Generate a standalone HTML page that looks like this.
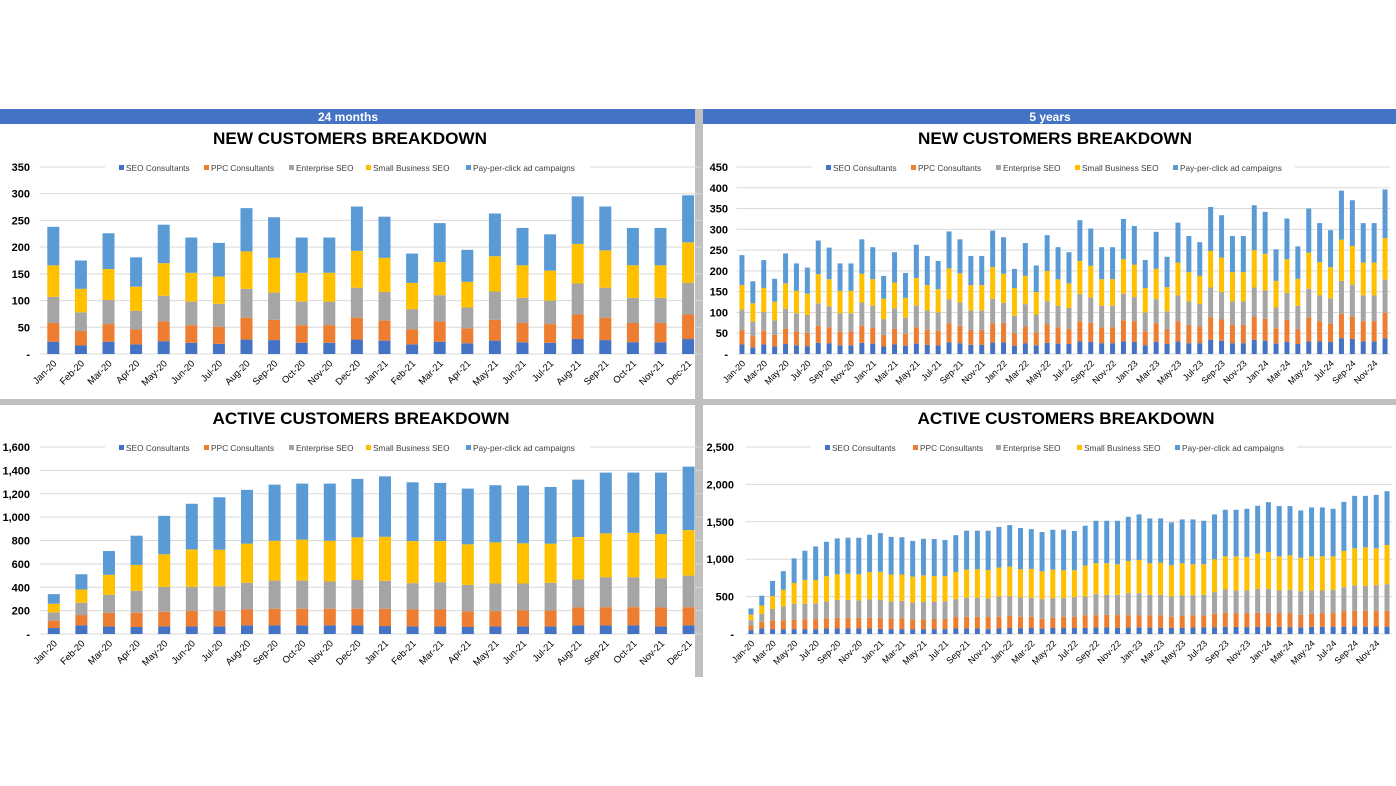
<!DOCTYPE html>
<html><head><meta charset="utf-8"><style>
html,body{margin:0;padding:0;background:#fff}
svg{display:block;font-family:"Liberation Sans",Arial,sans-serif}
</style></head><body>
<svg id="root" width="1396" height="786" viewBox="0 0 1396 786" xmlns="http://www.w3.org/2000/svg">
<rect x="0" y="0" width="1396" height="786" fill="#fff"/>
<rect x="0" y="109" width="695" height="15" fill="#4472C4"/>
<rect x="703" y="109" width="693" height="15" fill="#4472C4"/>
<text x="348" y="121" fill="#fff" font-size="12" font-weight="bold" text-anchor="middle">24 months</text>
<text x="1050" y="121" fill="#fff" font-size="12" font-weight="bold" text-anchor="middle">5 years</text>
<rect x="695" y="109" width="8" height="568" fill="#C0C0C0"/>
<rect x="0" y="399" width="1396" height="6" fill="#C0C0C0"/>
<g id="charts"></g>
</svg>
<script>
const seriesNames = ["SEO Consultants","PPC Consultants","Enterprise SEO","Small Business SEO","Pay-per-click ad campaigns"];
const seriesColors = ["#4472C4","#ED7D31","#A5A5A5","#FFC000","#5B9BD5"];
const monthNames = ["Jan","Feb","Mar","Apr","May","Jun","Jul","Aug","Sep","Oct","Nov","Dec"];
const years = ["20","21","22","23","24"];

const newSeo = [23,16,23,18,24,21,19,27,26,21,21,27,25,18,23,20,25,22,21,28,26,22,22,28,28,20,26,21,27,25,24,30,29,26,26,30,29,21,29,24,30,26,26,34,32,26,26,34,32,25,29,24,30,30,29,38,36,30,30,38];
const newPpc = [35,27,33,28,37,33,32,41,38,33,33,41,38,28,38,28,39,36,35,46,42,36,36,46,47,30,40,31,45,39,36,49,46,38,38,51,50,34,45,35,49,44,40,54,51,44,44,55,53,37,53,35,58,49,44,59,55,49,49,61];
const newEnt = [49,35,45,35,48,44,43,54,51,44,44,56,53,38,49,39,53,47,44,58,56,47,47,59,48,42,54,43,55,52,51,65,61,52,52,64,58,45,58,44,62,57,55,72,66,57,57,71,68,50,65,57,69,62,61,79,76,62,62,80];
const newSmb = [59,44,58,45,61,54,51,70,65,54,54,69,64,49,62,48,66,61,56,74,70,61,61,76,70,67,68,54,73,64,59,80,76,64,64,83,78,59,73,58,79,70,67,88,83,70,70,90,88,64,81,65,87,80,75,99,93,79,79,100];
const newAd  = [72,53,67,55,72,66,63,81,76,66,66,83,77,55,73,60,80,70,68,89,82,70,70,88,88,46,79,64,86,77,75,98,90,77,77,97,93,67,89,73,96,87,81,106,102,87,87,108,101,76,98,78,106,94,89,118,110,95,95,117];

const actSeo = [51,74,65,60,65,65,65,74,74,74,74,74,68,65,65,60,65,65,65,74,74,74,65,74,80,78,80,72,80,80,80,82,88,88,84,88,90,86,84,82,84,88,88,90,95,95,92,95,98,95,92,90,95,95,98,98,104,98,100,98];
const actPpc = [63,88,117,122,125,134,134,136,142,142,142,142,148,145,145,133,131,137,137,153,156,156,162,156,160,153,151,132,138,151,151,167,165,170,169,165,163,163,165,149,156,161,161,181,189,185,188,189,186,185,188,168,176,185,182,208,207,213,206,213];
const actEnt = [71,105,153,187,213,204,210,228,241,241,233,247,239,225,233,227,236,230,236,239,256,256,250,270,262,257,253,262,262,249,262,253,284,266,271,293,293,275,275,271,275,271,275,289,311,302,302,320,320,302,311,315,311,302,311,320,342,333,347,355];
const actSmb = [74,114,171,222,279,321,312,335,341,350,349,364,377,360,352,347,352,344,335,364,375,380,378,389,399,378,386,373,381,373,360,413,409,422,409,431,444,422,431,417,431,413,409,439,444,457,448,471,493,457,461,448,457,457,448,484,493,515,493,524];
const actAd  = [82,130,204,250,329,390,449,460,480,480,489,500,517,503,498,477,489,494,485,491,520,515,526,543,555,551,533,524,533,541,524,533,568,568,581,590,609,599,590,573,586,599,581,600,622,622,644,639,666,671,658,631,653,653,635,657,701,688,715,719];

const ticksNew24 = ["-","50","100","150","200","250","300","350"];
const ticksNew60 = ["-","50","100","150","200","250","300","350","400","450"];
const ticksAct24 = ["-","200","400","600","800","1,000","1,200","1,400","1,600"];
const ticksAct60 = ["-","500","1,000","1,500","2,000","2,500"];

const NS = "http://www.w3.org/2000/svg";
const root = document.getElementById("charts");
function mk(tag, attrs, parent){
  const e = document.createElementNS(NS, tag);
  for (const k in attrs) e.setAttribute(k, attrs[k]);
  (parent||root).appendChild(e);
  return e;
}
const labels = [];
years.forEach(y => monthNames.forEach(m => labels.push(m + "-" + y)));

function chart(cfg){
  const g = mk("g", {});
  
  
  const n = cfg.n;
  const step = cfg.tickStep, maxV = step * (cfg.ticks.length - 1);
  const yS = v => cfg.yBot - (v / maxV) * (cfg.yBot - cfg.yTop);
  const xC = i => cfg.left + (i + 0.5) * cfg.pitch;
  const right = cfg.left + n * cfg.pitch;
  const t = mk("text", {x: cfg.titleX, y: cfg.titleY, "font-size": 17, "font-weight": "bold", "text-anchor": "middle", fill: "#000", textLength: cfg.titleW, lengthAdjust: "spacingAndGlyphs"}, g);
  t.textContent = cfg.title;
  
  
  cfg.ticks.forEach((lab, k) => {
    const y = yS(k * step);
    const ln = mk("line", {x1: cfg.left, x2: right, y1: y, y2: y, stroke: "#D9D9D9", "stroke-width": 1}, g);
    
    
    const tx = mk("text", {x: cfg.labelRight, y: y + 4, "font-size": 11, "font-weight": "bold", "text-anchor": "end", fill: "#000"}, g);
    tx.textContent = lab;
    
    
  });
  mk("rect", {x: cfg.legX[0] - 14, y: cfg.yTop - 7, width: cfg.legX[4] + cfg.legLast - cfg.legX[0] + 28, height: 13, fill: "#fff"}, g);
  seriesNames.forEach((s, j) => {
    const le = mk("g", {}, g);
    
    
    mk("rect", {x: cfg.legX[j], y: cfg.yTop - 2, width: 5, height: 5, fill: seriesColors[j]}, le);
    const lt = mk("text", {x: cfg.legX[j] + 7, y: cfg.yTop + 4, "font-size": 8.3, fill: "#404040"}, le);
    lt.textContent = s;
  });
  for (let i = 0; i < n; i++){
    let acc = 0;
    cfg.data.forEach((arr, j) => {
      const v = arr[i];
      const r = mk("rect", {x: xC(i) - cfg.barW / 2, y: yS(acc + v), width: cfg.barW, height: Math.max(0, yS(acc) - yS(acc + v)), fill: seriesColors[j]}, g);
      
      
      acc += v;
    });
    if (i % cfg.labelEvery === 0){
      const cx = xC(i) + 4, cy = cfg.yBot + 10;
      const xl = mk("text", {x: cx, y: cy, "font-size": cfg.xFont, "text-anchor": "end", fill: "#000", transform: "rotate(-45 " + cx + " " + cy + ")"}, g);
      xl.textContent = labels[i];
      
      
    }
  }
}

chart({name: "new-customers-24m", title: "NEW CUSTOMERS BREAKDOWN", titleX: 350, titleY: 144, titleW: 274,
  n: 24, left: 39.5, pitch: 27.6, barW: 12, yTop: 167, yBot: 354, ticks: ticksNew24, tickStep: 50, labelRight: 30,
  data: [newSeo, newPpc, newEnt, newSmb, newAd], legX: [119, 204, 289, 366, 466], legLast: 110, labelEvery: 1, xFont: 9.5});
chart({name: "new-customers-5y", title: "NEW CUSTOMERS BREAKDOWN", titleX: 1055, titleY: 144, titleW: 274,
  n: 60, left: 736.5, pitch: 10.9, barW: 5, yTop: 167, yBot: 354, ticks: ticksNew60, tickStep: 50, labelRight: 728,
  data: [newSeo, newPpc, newEnt, newSmb, newAd], legX: [826, 911, 996, 1075, 1173], legLast: 108, labelEvery: 2, xFont: 9});
chart({name: "active-customers-24m", title: "ACTIVE CUSTOMERS BREAKDOWN", titleX: 361, titleY: 424, titleW: 297,
  n: 24, left: 40, pitch: 27.6, barW: 12, yTop: 447, yBot: 634, ticks: ticksAct24, tickStep: 200, labelRight: 30,
  data: [actSeo, actPpc, actEnt, actSmb, actAd], legX: [119, 204, 289, 366, 466], legLast: 110, labelEvery: 1, xFont: 9.5});
chart({name: "active-customers-5y", title: "ACTIVE CUSTOMERS BREAKDOWN", titleX: 1066, titleY: 424, titleW: 297,
  n: 60, left: 745.6, pitch: 10.78, barW: 5, yTop: 447, yBot: 634, ticks: ticksAct60, tickStep: 500, labelRight: 734,
  data: [actSeo, actPpc, actEnt, actSmb, actAd], legX: [825, 913, 996, 1077, 1175], legLast: 108, labelEvery: 2, xFont: 9});
</script>
</body></html>
